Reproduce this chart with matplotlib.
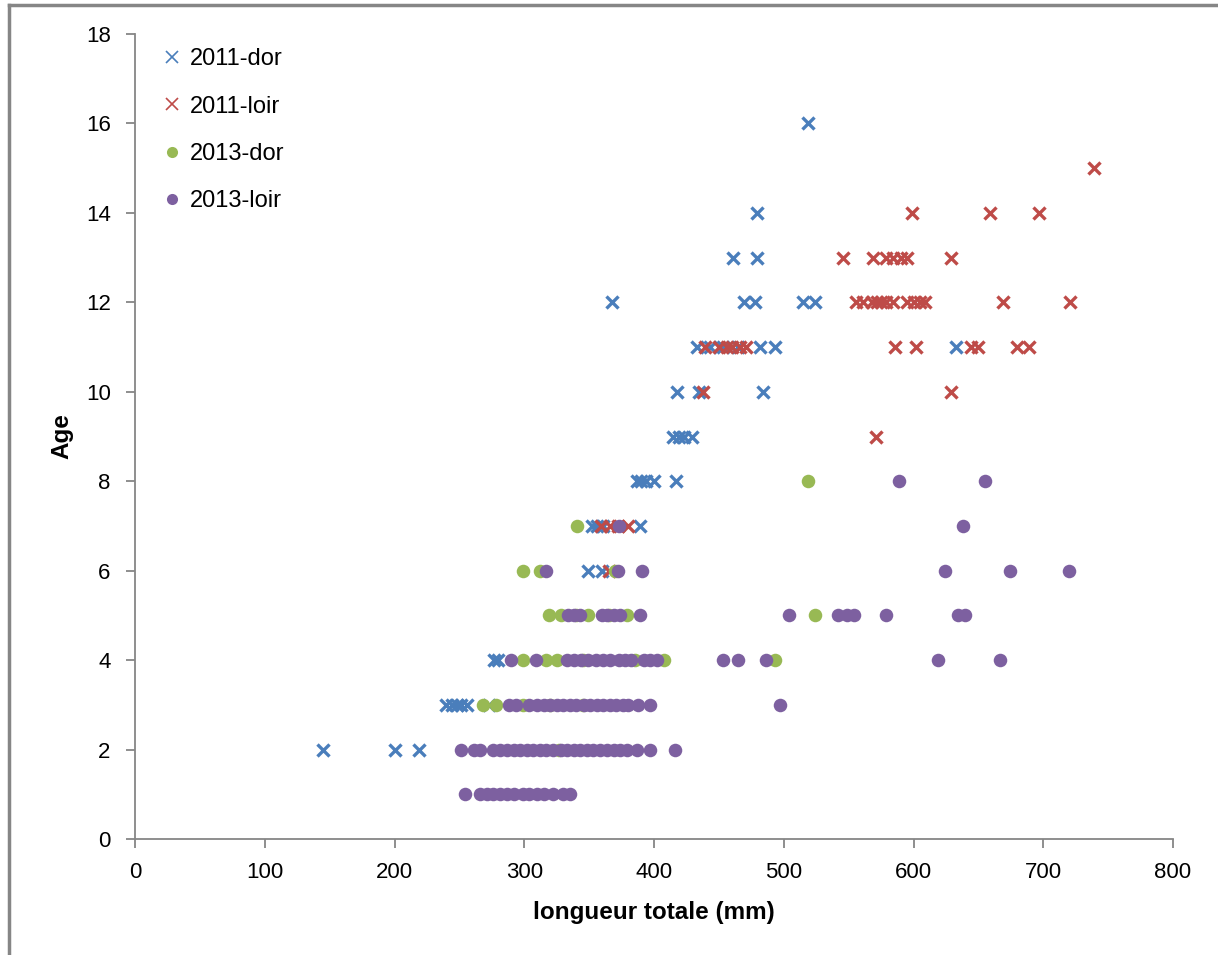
import matplotlib.pyplot as plt
from matplotlib.lines import Line2D

# longueur totale (mm) / age
dor2011_len = [145, 200, 219,
               240, 244, 248, 251, 256, 273,
               277, 280,
               349, 360,
               352, 356, 361, 389,
               387, 390, 394, 400, 417,
               415, 419, 423, 429,
               418, 435, 484,
               433, 443, 453, 465, 482, 493, 633,
               368, 469, 478, 515, 524,
               461, 479,
               479,
               519]
dor2011_age = [2, 2, 2,
               3, 3, 3, 3, 3, 3,
               4, 4,
               6, 6,
               7, 7, 7, 7,
               8, 8, 8, 8, 8,
               9, 9, 9, 9,
               10, 10, 10,
               11, 11, 11, 11, 11, 11, 11,
               12, 12, 12, 12, 12,
               13, 13,
               14,
               16]

loir2011_len = [365,
                359, 366, 372, 380,
                571,
                438, 629,
                439, 450, 456, 460, 466, 471, 586, 602, 644, 650, 680, 689,
                556, 561, 568, 572, 575, 579, 584, 595, 600, 605, 609, 669, 721,
                546, 569, 579, 584, 590, 595, 629,
                599, 659, 697,
                739]
loir2011_age = [6,
                7, 7, 7, 7,
                9,
                10, 10,
                11, 11, 11, 11, 11, 11, 11, 11, 11, 11, 11, 11,
                12, 12, 12, 12, 12, 12, 12, 12, 12, 12, 12, 12, 12,
                13, 13, 13, 13, 13, 13, 13,
                14, 14, 14,
                15]

dor2013_len = [327,
               268, 278, 299, 320, 345,
               299, 317, 325, 345, 385, 408, 493,
               319, 328, 340, 349, 365, 379, 524,
               299, 312, 370,
               341,
               519]
dor2013_age = [2,
               3, 3, 3, 3, 3,
               4, 4, 4, 4, 4, 4, 4,
               5, 5, 5, 5, 5, 5, 5,
               6, 6, 6,
               7,
               8]

loir2013_len = [254, 266, 271, 276, 281, 287, 292, 299, 304, 310, 315, 322, 330, 335,
                251, 261, 266, 276, 281, 287, 292, 297, 302, 307, 312, 317, 322, 328,
                333, 338, 343, 348, 353, 358, 364, 369, 374, 379, 387, 397, 416,
                288, 294, 304, 310, 315, 320, 325, 330, 335, 340, 346, 351, 356, 361,
                366, 371, 376, 380, 388, 397, 497,
                290, 309, 333, 338, 344, 349, 355, 361, 366, 373, 378, 382, 392, 397,
                402, 453, 465, 486, 619, 667,
                334, 338, 343, 360, 364, 369, 374, 389, 504, 542, 549, 554, 579, 634, 640,
                317, 372, 391, 624, 674, 720,
                373, 638,
                589, 655]
loir2013_age = [1] * 14 + [2] * 27 + [3] * 21 + [4] * 20 + [5] * 15 + [6] * 6 + [7] * 2 + [8] * 2

labels = ["2011-dor", "2011-loir", "2013-dor", "2013-loir"]
colors = ["#4A7EBB", "#BE4B48", "#98B954", "#7D60A0"]

plt.rcParams['font.family'] = ['Liberation Sans', 'DejaVu Sans']

fig = plt.figure(figsize=(12.18, 9.55), dpi=100)
ax = fig.add_axes([135 / 1218, 1 - 839 / 955, (1173 - 135) / 1218, (839 - 34) / 955])

ax.scatter(dor2011_len, dor2011_age, marker="x", s=75, linewidths=2.4, color=colors[0], zorder=3)
ax.scatter(loir2011_len, loir2011_age, marker="x", s=75, linewidths=2.4, color=colors[1], zorder=3)
ax.scatter(dor2013_len, dor2013_age, marker="o", s=95, linewidths=0, color=colors[2], zorder=3)
ax.scatter(loir2013_len, loir2013_age, marker="o", s=95, linewidths=0, color=colors[3], zorder=3)

ax.set_xlim(0, 800)
ax.set_ylim(0, 18)
ax.set_xticks(range(0, 801, 100))
ax.set_yticks(range(0, 19, 2))
for side in ["top", "right"]:
    ax.spines[side].set_visible(False)
for side in ["left", "bottom"]:
    ax.spines[side].set_color("#868686")
    ax.spines[side].set_linewidth(1.3)
ax.tick_params(direction="out", length=6.5, width=1.3, color="#868686", labelsize=16)
ax.tick_params(axis="x", pad=10)
ax.tick_params(axis="y", pad=11)

ax.set_xlabel("longueur totale (mm)", fontsize=17.5, fontweight="bold", labelpad=13)
ax.set_ylabel("Age", fontsize=17.5, fontweight="bold", labelpad=9)

# legende
handles = [
    Line2D([], [], ls="", marker="x", ms=8, mew=1.2, color=colors[0]),
    Line2D([], [], ls="", marker="x", ms=8, mew=1.2, color=colors[1]),
    Line2D([], [], ls="", marker="o", ms=8, mew=0, color=colors[2]),
    Line2D([], [], ls="", marker="o", ms=8, mew=0, color=colors[3]),
]
ax.legend(handles, labels, loc="upper left", bbox_to_anchor=(0.0153, 0.994),
          frameon=False, fontsize=17, labelspacing=1.07, handletextpad=0.27,
          handlelength=1.0, borderaxespad=0)

# cadre du graphique
fig.add_artist(Line2D([9 / 1218, 9 / 1218], [0, 1 - 5 / 955], color="#868686", lw=2.5))
fig.add_artist(Line2D([9 / 1218, 1], [1 - 5 / 955, 1 - 5 / 955], color="#868686", lw=2.5))

fig.savefig("out.png", dpi=100)
